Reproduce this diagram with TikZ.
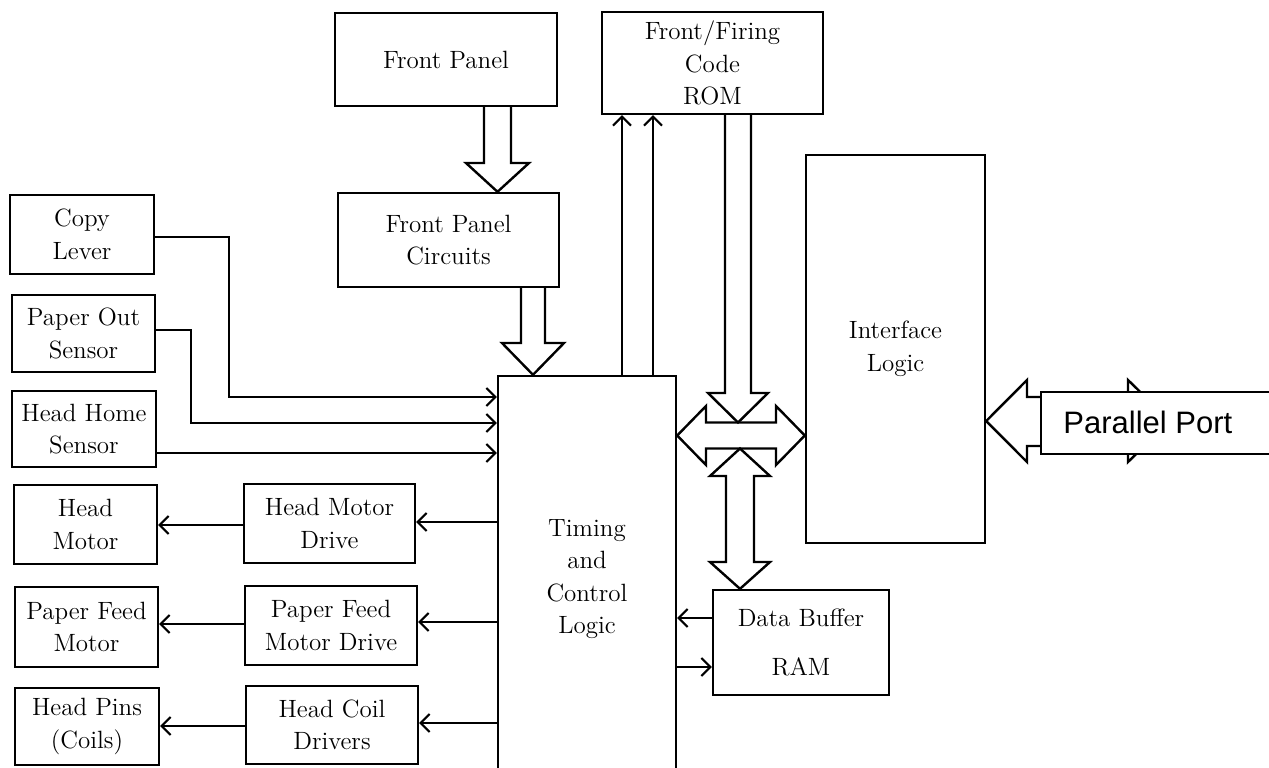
\documentclass[tikz,border=0pt]{standalone}
\usepackage{fontspec}
\newfontfamily\ppfont{Liberation Sans}
\usetikzlibrary{arrows.meta}
\begin{document}
\begin{tikzpicture}[x=0.5pt,y=-0.5pt,
  box/.style={draw,line width=1.2pt,rectangle,inner sep=0pt,align=center,
    font=\fontsize{12.5}{16.3}\selectfont},
  arr/.style={line width=1.2pt,-{Straight Barb[length=4.5pt,width=9pt,line width=1pt]}},
  ln/.style={line width=1.2pt},
  fat/.style={line width=1.2pt,line join=miter,fill=white}]
\useasboundingbox (0,0) rectangle (1269,767);
% boxes
\node[box,minimum width=111pt,minimum height=46.5pt] (fp) at (446,59.5) {Front Panel};
\node[box,minimum width=110.5pt,minimum height=47pt] (fpc) at (448.5,240) {Front Panel\\Circuits};
\node[box,minimum width=110.5pt,minimum height=51pt] (rom) at (712.5,63) {Front/Firing\\Code\\ROM};
\node[box,minimum width=89.5pt,minimum height=194pt] (iface) at (895.5,349) {Interface\\Logic};
\node[box,minimum width=89pt,minimum height=203pt] (timing) at (587,579) {Timing\\and\\Control\\Logic};
\node[box,minimum width=88pt,minimum height=52.5pt] (db) at (801,642.5) {Data Buffer\\[8.5pt]RAM};
\node[box,minimum width=72pt,minimum height=39.5pt] (copy) at (82,234.5) {Copy\\Lever};
\node[box,minimum width=71.5pt,minimum height=38.5pt] (pos) at (83.5,333.5) {Paper Out\\Sensor};
\node[box,minimum width=72pt,minimum height=38pt] (hhs) at (84,429) {Head Home\\Sensor};
\node[box,minimum width=71.5pt,minimum height=39.5pt] (hm) at (85.5,524.5) {Head\\Motor};
\node[box,minimum width=85.5pt,minimum height=39.5pt] (hmd) at (329.5,523.5) {Head Motor\\Drive};
\node[box,minimum width=71.5pt,minimum height=40pt] (pfm) at (86.5,627) {Paper Feed\\Motor};
\node[box,minimum width=86pt,minimum height=39.5pt] (pfmd) at (331,625.5) {Paper Feed\\Motor Drive};
\node[box,minimum width=72pt,minimum height=38.5pt] (hp) at (87,726.5) {Head Pins\\(Coils)};
\node[box,minimum width=86pt,minimum height=39pt] (hcd) at (332,725) {Head Coil\\Drivers};
% fat arrows
\draw[fat] (484,0 |- fp.south) -- (484,163) -- (466,163) -- (497.5,0 |- fpc.north) -- (529,163) -- (511,163) -- (511,0 |- fp.south);
\draw[fat] (521,0 |- fpc.south) -- (521,343) -- (502,343) -- (533,0 |- timing.north) -- (564,343) -- (545,343) -- (545,0 |- fpc.south);
\draw[fat] (timing.east |- 0,435.5) -- (706,406) -- (706,422.5) -- (776,422.5) -- (776,406) -- (iface.west |- 0,435.5) -- (776,465) -- (776,448.5) -- (706,448.5) -- (706,465) -- cycle;
\draw[fat] (725,0 |- rom.south) -- (725,393) -- (708,393) -- (738,422.5) -- (768,393) -- (751,393) -- (751,0 |- rom.south);
\draw[fat] (740,448.5) -- (770,476) -- (754,476) -- (754,562) -- (770,562) -- (740,0 |- db.north) -- (710,562) -- (726,562) -- (726,476) -- (710,476) -- cycle;
\draw[fat] (iface.east |- 0,421) -- (1027,380) -- (1027,397) -- (1128,397) -- (1128,380) -- (1170,421) -- (1128,462) -- (1128,446) -- (1027,446) -- (1027,462) -- cycle;
\node[draw,line width=1.2pt,fill=white,inner sep=0pt,minimum width=129.5pt,minimum height=31pt] (ppbox) at (1170.5,423) {};
\node[anchor=base west,inner sep=0pt,font=\ppfont\fontsize{15.5}{18}\selectfont] (pptext) at (1063,433) {Parallel Port};
% thin arrows
\draw[arr] (timing.north -| 622,0) -- (rom.south -| 622,0);
\draw[arr] (timing.north -| 653,0) -- (rom.south -| 653,0);
\draw[arr] (copy.east |- 0,237) -| (229,397) -- (timing.west |- 0,397);
\draw[arr] (pos.east |- 0,330) -| (191,423) -- (timing.west |- 0,423);
\draw[arr] (hhs.east |- 0,453) -- (timing.west |- 0,453);
\draw[arr] (timing.west |- 0,522) -- (hmd.east |- 0,522);
\draw[arr] (hmd.west |- 0,525) -- (hm.east |- 0,525);
\draw[arr] (timing.west |- 0,622) -- (pfmd.east |- 0,622);
\draw[arr] (pfmd.west |- 0,624) -- (pfm.east |- 0,624);
\draw[arr] (timing.west |- 0,723) -- (hcd.east |- 0,723);
\draw[arr] (hcd.west |- 0,726) -- (hp.east |- 0,726);
\draw[arr] (db.west |- 0,618) -- (timing.east |- 0,618);
\draw[arr] (timing.east |- 0,667) -- (db.west |- 0,667);
\end{tikzpicture}
\end{document}
